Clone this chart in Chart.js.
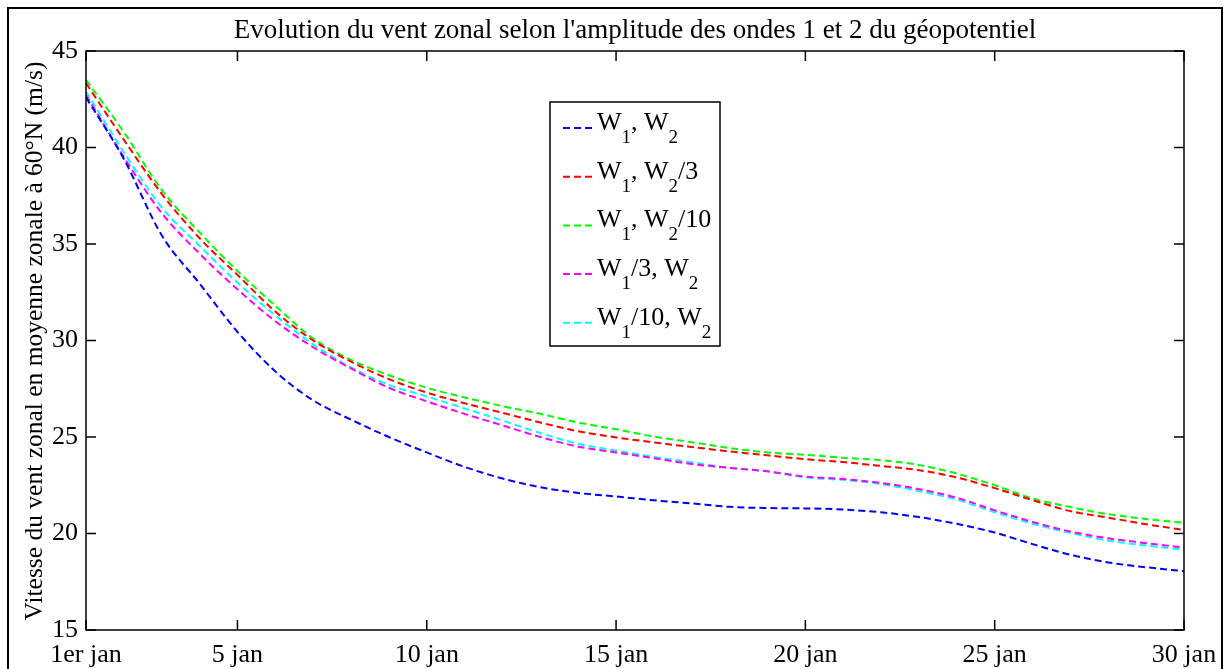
<!DOCTYPE html>
<html>
<head>
<meta charset="utf-8">
<script src="https://cdn.jsdelivr.net/npm/chart.js@4/dist/chart.umd.min.js"></script>
<style>
  html, body { margin: 0; padding: 0; background: #fff; }
  #wrap { width: 1230px; height: 669px; position: relative; }
</style>
</head>
<body>
<div id="wrap"><canvas id="ventChart"></canvas></div>
<script>
// jours de janvier
const days = [1, 2, 3, 4, 5, 6, 7, 8, 9, 10, 11, 12, 13, 14, 15,
              16, 17, 18, 19, 20, 21, 22, 23, 24, 25, 26, 27, 28, 29, 30];

// vent zonal (m/s)
const w1w2 = [42.6, 39.4, 35.45, 32.95, 30.45, 28.4, 26.9, 25.9, 25.0, 24.2,
              23.45, 22.85, 22.4, 22.1, 21.92, 21.72, 21.56, 21.38, 21.32, 21.3,
              21.24, 21.1, 20.85, 20.5, 20.05, 19.45, 18.9, 18.5, 18.25, 18.05];
const w1w2by3 = [43.33, 40.4, 37.6, 35.3, 33.4, 31.5, 30.0, 28.9, 28.0, 27.3,
                 26.75, 26.25, 25.75, 25.3, 24.98, 24.72, 24.48, 24.25, 24.05, 23.85,
                 23.7, 23.5, 23.28, 22.9, 22.35, 21.73, 21.16, 20.82, 20.48, 20.18];
const w1w2by10 = [43.5, 40.8, 37.8, 35.6, 33.6, 31.8, 30.1, 29.0, 28.2, 27.55,
                  27.05, 26.6, 26.2, 25.75, 25.4, 25.02, 24.73, 24.43, 24.2, 24.08,
                  23.92, 23.8, 23.55, 23.1, 22.5, 21.82, 21.37, 21.0, 20.75, 20.55];
const w1by3w2 = [42.72, 39.5, 36.6, 34.5, 32.65, 31.0, 29.65, 28.55, 27.55, 26.85,
                 26.2, 25.6, 25.0, 24.5, 24.2, 23.9, 23.6, 23.4, 23.22, 22.95,
                 22.82, 22.62, 22.3, 21.85, 21.2, 20.6, 20.1, 19.75, 19.5, 19.27];
const w1by10w2 = [42.9, 39.75, 36.9, 34.9, 33.0, 31.3, 29.8, 28.6, 27.7, 27.1,
                  26.48, 25.85, 25.2, 24.65, 24.3, 23.97, 23.69, 23.4, 23.22, 22.9,
                  22.78, 22.56, 22.2, 21.75, 21.1, 20.5, 20.03, 19.63, 19.38, 19.15];

const seriesLabels = ['W_1, W_2', 'W_1, W_2/3', 'W_1, W_2/10', 'W_1/3, W_2', 'W_1/10, W_2'];
const seriesColors = ['#0000ff', '#ff0000', '#00ff00', '#ff00ff', '#00ffff'];

const xTicks = [1, 5, 10, 15, 20, 25, 30];
const xTickLabels = ['1er jan', '5 jan', '10 jan', '15 jan', '20 jan', '25 jan', '30 jan'];
const yTicks = [15, 20, 25, 30, 35, 40, 45];

const titleText = "Evolution du vent zonal selon l'amplitude des ondes 1 et 2 du géopotentiel";
const yTitleText = 'Vitesse du vent zonal en moyenne zonale à 60°N (m/s)';

const FONT = '"Liberation Serif", "Times New Roman", serif';
const DASH = [7, 4];

const allSeries = [w1w2, w1w2by3, w1w2by10, w1by3w2, w1by10w2];

const datasets = allSeries.map((vals, i) => ({
    label: seriesLabels[i],
    data: days.map((d, k) => ({ x: d, y: vals[k] })),
    borderColor: seriesColors[i],
    borderWidth: 2,
    borderDash: DASH,
    pointRadius: 0,
    fill: false,
    cubicInterpolationMode: 'monotone'
}));

// texte avec indices façon TeX (W_1)
function drawTex(ctx, str, x, y) {
    const parts = str.split(/_(\d+)/);
    let cx = x;
    parts.forEach((p, i) => {
        if (!p) return;
        if (i % 2 === 1) {
            ctx.font = '19px ' + FONT;
            ctx.fillText(p, cx, y + 13);
        } else {
            ctx.font = '26px ' + FONT;
            ctx.fillText(p, cx, y);
        }
        cx += ctx.measureText(p).width;
    });
}

const figurePlugin = {
    id: 'figure',
    beforeDraw(chart) {
        const ctx = chart.ctx;
        ctx.save();
        ctx.fillStyle = '#fff';
        ctx.fillRect(0, 0, chart.width, chart.height);
        ctx.restore();
    },
    afterDraw(chart) {
        const ctx = chart.ctx;
        const a = chart.chartArea;
        const xs = chart.scales.x, ys = chart.scales.y;
        ctx.save();

        // cadre de la figure
        ctx.strokeStyle = '#000';
        ctx.lineWidth = 2;
        ctx.strokeRect(8, 8, 1214, 700);

        // boite des axes
        ctx.lineWidth = 1.5;
        ctx.strokeRect(a.left, a.top, a.right - a.left, a.bottom - a.top);

        // graduations vers l'interieur
        ctx.beginPath();
        xTicks.forEach(v => {
            const px = xs.getPixelForValue(v);
            ctx.moveTo(px, a.bottom); ctx.lineTo(px, a.bottom - 10);
            ctx.moveTo(px, a.top); ctx.lineTo(px, a.top + 10);
        });
        yTicks.forEach(v => {
            const py = ys.getPixelForValue(v);
            ctx.moveTo(a.left, py); ctx.lineTo(a.left + 10, py);
            ctx.moveTo(a.right, py); ctx.lineTo(a.right - 10, py);
        });
        ctx.stroke();

        // titre
        ctx.fillStyle = '#000';
        ctx.font = '27px ' + FONT;
        ctx.textAlign = 'center';
        ctx.textBaseline = 'middle';
        ctx.fillText(titleText, (a.left + a.right) / 2, 31);

        // titre axe y
        ctx.save();
        ctx.font = '25.5px ' + FONT;
        ctx.translate(35, 341);
        ctx.rotate(-Math.PI / 2);
        ctx.fillText(yTitleText, 0, 0);
        ctx.restore();

        // legende
        const bx = 550, by = 102, bw = 170, bh = 244;
        ctx.fillStyle = '#fff';
        ctx.fillRect(bx, by, bw, bh);
        ctx.lineWidth = 1.5;
        ctx.strokeStyle = '#000';
        ctx.strokeRect(bx, by, bw, bh);
        ctx.textAlign = 'left';
        ctx.textBaseline = 'alphabetic';
        chart.data.datasets.forEach((ds, i) => {
            const ly = 128 + i * 48.7;
            ctx.strokeStyle = ds.borderColor;
            ctx.lineWidth = 2;
            ctx.setLineDash(DASH);
            ctx.beginPath();
            ctx.moveTo(563, ly);
            ctx.lineTo(595, ly);
            ctx.stroke();
            ctx.setLineDash([]);
            ctx.fillStyle = '#000';
            drawTex(ctx, ds.label, 597, ly + 2);
        });
        ctx.restore();
    }
};

new Chart(document.getElementById('ventChart'), {
    type: 'line',
    data: { datasets: datasets },
    options: {
        responsive: true,
        maintainAspectRatio: false,
        animation: false,
        layout: { padding: { top: 51, right: 46, left: 0, bottom: 0 } },
        plugins: {
            legend: { display: false },
            title: { display: false },
            tooltip: { enabled: false }
        },
        scales: {
            x: {
                type: 'linear',
                min: 1,
                max: 30,
                grid: { display: false, drawTicks: false },
                border: { display: false },
                afterBuildTicks: scale => { scale.ticks = xTicks.map(v => ({ value: v })); },
                afterFit: scale => { scale.height = 39; },
                ticks: {
                    autoSkip: false,
                    maxRotation: 0,
                    padding: 10,
                    color: '#000',
                    font: { family: FONT, size: 26 },
                    callback: v => xTickLabels[xTicks.indexOf(v)]
                }
            },
            y: {
                min: 15,
                max: 45,
                grid: { display: false, drawTicks: false },
                border: { display: false },
                afterBuildTicks: scale => { scale.ticks = yTicks.map(v => ({ value: v })); },
                afterFit: scale => { scale.width = 86; },
                ticks: {
                    padding: 8,
                    color: '#000',
                    font: { family: FONT, size: 26 }
                }
            }
        }
    },
    plugins: [figurePlugin]
});
</script>
</body>
</html>
